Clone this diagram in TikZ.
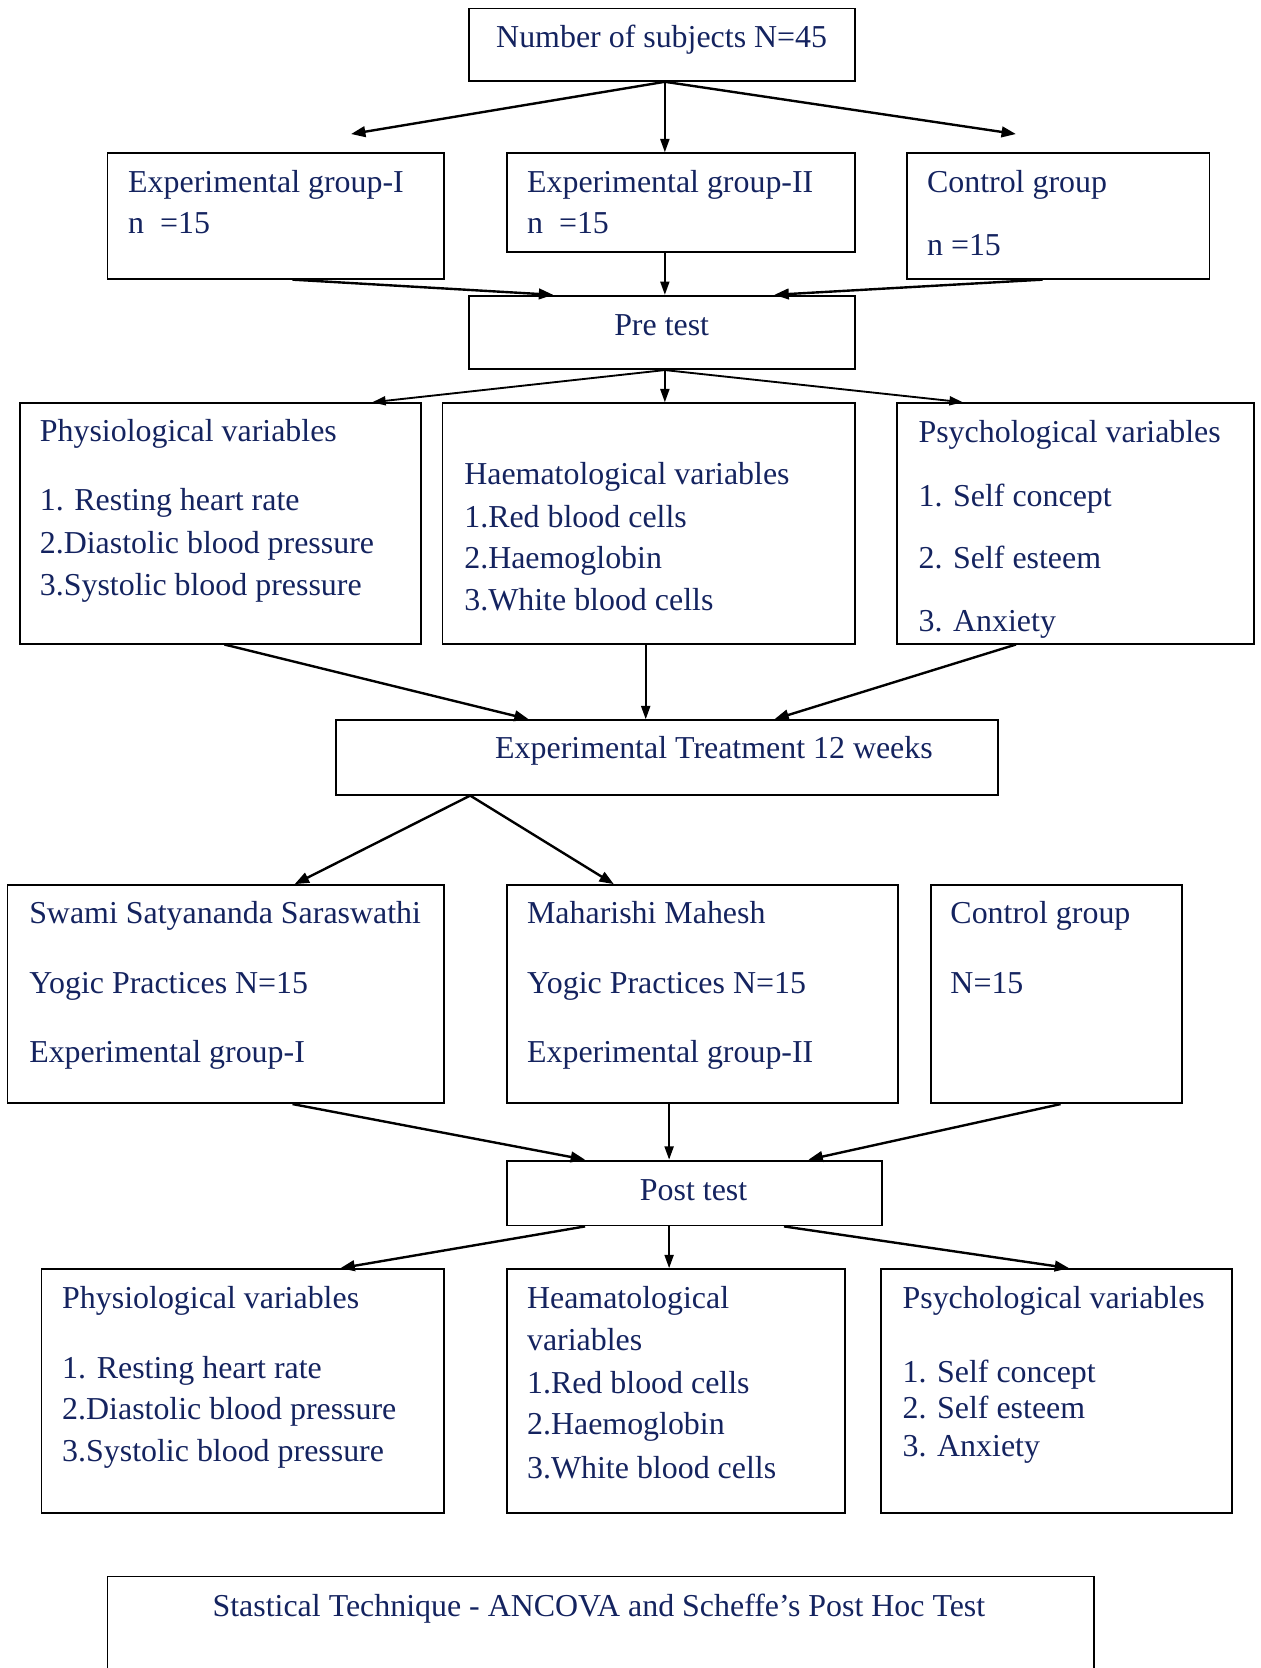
\documentclass[tikz,border=0pt]{standalone}
\usepackage{fontspec}
\setmainfont{Liberation Serif}
\usetikzlibrary{arrows.meta,fit}
\definecolor{navy}{RGB}{20,35,95}
\begin{document}
\begin{tikzpicture}[x=0.4pt,y=-0.4pt,
  box/.style={draw, line width=0.7pt, inner sep=0pt},
  lbl/.style={font=\fontsize{12}{14}\selectfont, text=navy, anchor=mid west, inner sep=0pt, yshift=-1.6pt},
  ctr/.style={font=\fontsize{12}{14}\selectfont, text=navy, anchor=mid, inner sep=0pt, yshift=-1.6pt},
  arr/.style={-{Triangle[length=5.4pt,width=4pt]}, line width=0.9pt},
  varr/.style={-{Triangle[length=5pt,width=3.4pt]}, line width=0.7pt}]
\useasboundingbox (0,0) rectangle (1185,1568);

% boxes
\node[box, fit={(441,8)(804,76)}] (n0) {};
\node[box, fit={(101,144)(417,262)}] (g1) {};
\node[box, fit={(477,144)(804,237)}] (g2) {};
\node[box, fit={(853,144)(1137,262)}] (g3) {};
\node[box, fit={(441,278)(804,347)}] (pre) {};
\node[box, fit={(19,379)(396,605)}] (phy) {};
\node[box, fit={(416,379)(804,605)}] (hae) {};
\node[box, fit={(843,379)(1179,605)}] (psy) {};
\node[box, fit={(316,677)(938,747)}] (trt) {};
\node[box, fit={(7,832)(417,1037)}] (sw) {};
\node[box, fit={(477,832)(844,1037)}] (mh) {};
\node[box, fit={(875,832)(1111,1037)}] (ctl) {};
\node[box, fit={(477,1091)(829,1152)}] (post) {};
\node[box, fit={(39,1193)(417,1422)}] (phyb) {};
\node[box, fit={(477,1193)(794,1422)}] (haeb) {};
\node[box, fit={(828,1193)(1158,1422)}] (psyb) {};
\draw[line width=0.7pt] (101,1568) -- (101,1482) -- (1028,1482) -- (1028,1568);

% texts
\node[ctr] (tn0) at (622,35) {Number of subjects N=45};
\node[lbl] (tg1a) at (120,171) {Experimental group-I};
\node[lbl] (tg1b) at (120,210) {n\ \ =15};
\node[lbl] (tg2a) at (495,171) {Experimental group-II};
\node[lbl] (tg2b) at (495,210) {n\ \ =15};
\node[lbl] (tg3a) at (871,171) {Control group};
\node[lbl] (tg3b) at (871,230) {n =15};
\node[ctr] (tpre) at (622,306) {Pre test};

\node[lbl] (tp1) at (37,405) {Physiological variables};
\node[lbl] (tp2) at (37,470) {1. Resting heart rate};
\node[lbl] (tp3) at (37,511) {2.Diastolic blood pressure};
\node[lbl] (tp4) at (37,550) {3.Systolic blood pressure};

\node[lbl] (th1) at (436,446) {Haematological variables};
\node[lbl] (th2) at (436,486) {1.Red blood cells};
\node[lbl] (th3) at (436,525) {2.Haemoglobin};
\node[lbl] (th4) at (436,564) {3.White blood cells};

\node[lbl] (ts1) at (863,406) {Psychological variables};
\node[lbl] (ts2) at (863,466) {1. Self concept};
\node[lbl] (ts3) at (863,525) {2. Self esteem};
\node[lbl] (ts4) at (863,584) {3. Anxiety};

\node[lbl] (ttrt) at (465,703) {Experimental Treatment 12 weeks};

\node[lbl] (tsw1) at (27,858) {Swami Satyananda Saraswathi};
\node[lbl] (tsw2) at (27,924) {Yogic Practices N=15};
\node[lbl] (tsw3) at (27,989) {Experimental group-I};

\node[lbl] (tmh1) at (495,858) {Maharishi Mahesh};
\node[lbl] (tmh2) at (495,924) {Yogic Practices N=15};
\node[lbl] (tmh3) at (495,989) {Experimental group-II};

\node[lbl] (tc1) at (893,858) {Control group};
\node[lbl] (tc2) at (893,924) {N=15};

\node[ctr] (tpost) at (652,1119) {Post test};

\node[lbl] (tq1) at (58,1220) {Physiological variables};
\node[lbl] (tq2) at (58,1286) {1. Resting heart rate};
\node[lbl] (tq3) at (58,1325) {2.Diastolic blood pressure};
\node[lbl] (tq4) at (58,1364) {3.Systolic blood pressure};

\node[lbl] (tr1) at (495,1220) {Heamatological};
\node[lbl] (tr2) at (495,1260) {variables};
\node[lbl] (tr3) at (495,1300) {1.Red blood cells};
\node[lbl] (tr4) at (495,1339) {2.Haemoglobin};
\node[lbl] (tr5) at (495,1380) {3.White blood cells};

\node[lbl] (tu1) at (848,1220) {Psychological variables};
\node[lbl] (tu2) at (848,1290) {1. Self concept};
\node[lbl] (tu3) at (848,1324) {2. Self esteem};
\node[lbl] (tu4) at (848,1359) {3. Anxiety};

\node[ctr] (tstat) at (563,1510) {Stastical Technique - ANCOVA and Scheffe’s Post Hoc Test};

% free arrow ends
\coordinate (endL) at (330,126);
\coordinate (endR) at (955,126);

% arrows
\draw[arr] (n0.south -| 625,0) -- (endL);
\draw[varr] (n0.south -| 625,0) -- (g2.north -| 625,0);
\draw[arr] (n0.south -| 625,0) -- (endR);

\draw[arr] (g1.south -| 275,0) -- (pre.north -| 520,0);
\draw[varr] (g2.south -| 625,0) -- (pre.north -| 625,0);
\draw[arr] (g3.south -| 980,0) -- (pre.north -| 728,0);

\draw[varr] (pre.south -| 625,0) -- (phy.north -| 350,0);
\draw[varr] (pre.south -| 625,0) -- (hae.north -| 625,0);
\draw[varr] (pre.south -| 625,0) -- (psy.north -| 905,0);

\draw[arr] (phy.south -| 211,0) -- (trt.north -| 497,0);
\draw[varr] (hae.south -| 607,0) -- (trt.north -| 607,0);
\draw[arr] (psy.south -| 955,0) -- (trt.north -| 728,0);

\draw[arr] (trt.south -| 442,0) -- (sw.north -| 277,0);
\draw[arr] (trt.south -| 442,0) -- (mh.north -| 577,0);

\draw[arr] (sw.south -| 275,0) -- (post.north -| 550,0);
\draw[varr] (mh.south -| 629,0) -- (post.north -| 629,0);
\draw[arr] (ctl.south -| 997,0) -- (post.north -| 760,0);

\draw[arr] (post.south -| 550,0) -- (phyb.north -| 320,0);
\draw[varr] (post.south -| 629,0) -- (haeb.north -| 629,0);
\draw[arr] (post.south -| 737,0) -- (psyb.north -| 1005,0);
\end{tikzpicture}
\end{document}
